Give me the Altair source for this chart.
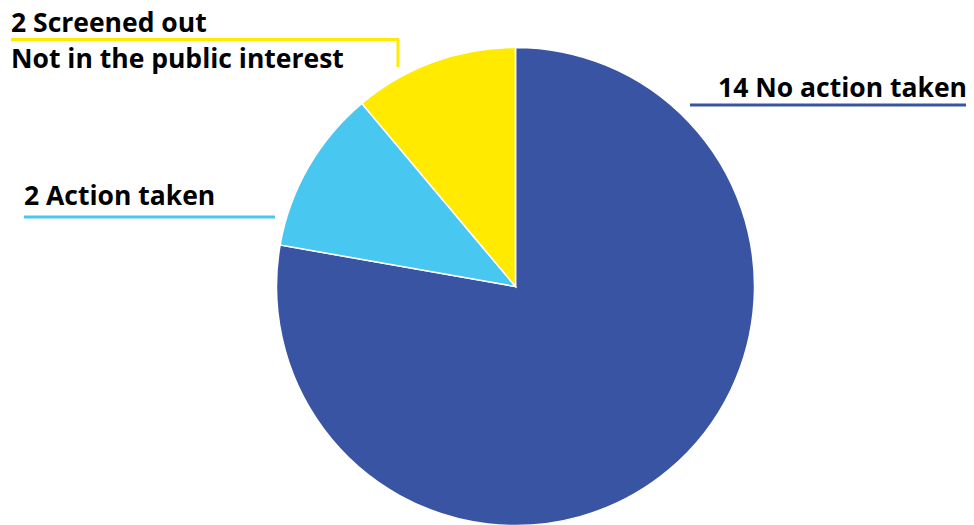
import altair as alt
import pandas as pd

categories = ["No action taken", "Action taken", "Screened out"]
counts = [14, 2, 2]
colors = ["#3A54A4", "#48C7F0", "#FFEA00"]

df = pd.DataFrame({"category": categories, "count": counts, "order": [0, 1, 2]})

OFF = 8
cx, cy, R = 515.5 - OFF, 286.5 - OFF, 239

pie = alt.Chart(df).mark_arc(outerRadius=R, stroke="white", strokeWidth=1.5).encode(
    theta=alt.Theta("count:Q", stack=True),
    order=alt.Order("order:O"),
    color=alt.Color("category:N", scale=alt.Scale(domain=categories, range=colors), legend=None),
    x=alt.value(cx),
    y=alt.value(cy),
)

blank = alt.Chart(pd.DataFrame({"a": [0]}))

def rule(x1, x2, y1, y2, color):
    return blank.mark_rule(color=color, strokeWidth=3).encode(
        x=alt.value(x1 - OFF), x2=alt.value(x2 - OFF), y=alt.value(y1 - OFF), y2=alt.value(y2 - OFF)
    )

def label(text, x, y):
    return blank.mark_text(
        text=text, font="Open Sans", fontWeight="bold", fontSize=26.5, align="left",
        baseline="alphabetic", color="#000000",
    ).encode(x=alt.value(x - OFF), y=alt.value(y - OFF))

labels_text = [f"{counts[2]} Screened out", "Not in the public interest",
               f"{counts[0]} No action taken", f"{counts[1]} Action taken"]

layers = [
    pie,
    rule(11, 399, 39.5, 39.5, colors[2]),
    rule(398, 398, 39.5, 67, colors[2]),
    rule(24, 275, 217, 217, colors[1]),
    rule(690, 966, 105, 105, colors[0]),
    label(labels_text[0], 11, 31.5),
    label(labels_text[1], 11, 68),
    label(labels_text[2], 718, 97),
    label(labels_text[3], 24, 205),
]

chart = alt.layer(*layers).properties(
    width=958, height=517, padding=0, autosize=alt.AutoSizeParams(type="none")
).configure_view(stroke=None)

chart.save("out.html", embed_options={"renderer": "svg", "actions": False})
